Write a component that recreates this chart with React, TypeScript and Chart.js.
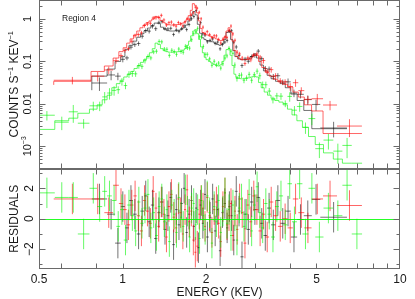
import React, { useEffect, useRef } from 'react';
import { Chart, registerables } from 'chart.js';

Chart.register(...registerables);

// ---------------- data ----------------
// Black data set (bin edges in keV, counts s^-1 keV^-1, model, relative 1-sigma error, residuals)
const blackEdges = [0.775, 0.88, 0.94, 0.985, 1.02, 1.055, 1.09, 1.125, 1.16, 1.195, 1.23, 1.265, 1.3, 1.335, 1.37, 1.405, 1.44, 1.475, 1.51, 1.545, 1.58, 1.615, 1.65, 1.685, 1.72, 1.755, 1.79, 1.825, 1.86, 1.895, 1.93, 1.965, 2.0, 2.045, 2.09, 2.135, 2.18, 2.225, 2.27, 2.315, 2.36, 2.405, 2.45, 2.495, 2.54, 2.6, 2.66, 2.73, 2.8, 2.88, 2.96, 3.04, 3.13, 3.22, 3.32, 3.43, 3.56, 3.7, 3.86, 4.04, 4.26, 4.5, 4.81, 5.16, 6.44];
const blackCounts = [0.031, 0.048, 0.045, 0.112, 0.121, 0.217, 0.249, 0.264, 0.392, 0.531, 0.517, 0.676, 0.591, 0.832, 0.866, 0.595, 0.581, 0.604, 0.432, 0.551, 0.509, 0.594, 0.684, 0.564, 0.742, 1.01, 1.14, 1.58, 1.04, 0.818, 0.446, 0.418, 0.29, 0.313, 0.339, 0.267, 0.286, 0.198, 0.25, 0.286, 0.31, 0.518, 0.53, 0.284, 0.219, 0.138, 0.08, 0.114, 0.101, 0.13, 0.139, 0.175, 0.116, 0.068, 0.066, 0.044, 0.046, 0.0325, 0.033, 0.018, 0.0168, 0.0126, 0.0097, 0.0027];
const blackModel = [0.021, 0.045, 0.066, 0.1, 0.13, 0.19, 0.24, 0.3, 0.37, 0.45, 0.53, 0.61, 0.7, 0.8, 0.78, 0.64, 0.57, 0.53, 0.52, 0.52, 0.53, 0.54, 0.57, 0.62, 0.72, 0.9, 1.2, 1.5, 1.25, 0.75, 0.46, 0.36, 0.33, 0.31, 0.3, 0.29, 0.27, 0.25, 0.24, 0.26, 0.33, 0.48, 0.52, 0.33, 0.18, 0.13, 0.115, 0.11, 0.11, 0.115, 0.13, 0.15, 0.12, 0.082, 0.06, 0.047, 0.039, 0.034, 0.03, 0.024, 0.017, 0.012, 0.007, 0.0026];
const blackErr = [0.35, 0.25, 0.2, 0.15, 0.12, 0.12, 0.12, 0.12, 0.12, 0.12, 0.12, 0.12, 0.12, 0.1, 0.1, 0.1, 0.1, 0.1, 0.1, 0.1, 0.1, 0.1, 0.1, 0.1, 0.1, 0.1, 0.1, 0.08, 0.09, 0.1, 0.1, 0.1, 0.1, 0.1, 0.1, 0.1, 0.1, 0.1, 0.1, 0.1, 0.1, 0.1, 0.1, 0.1, 0.12, 0.12, 0.12, 0.12, 0.12, 0.12, 0.12, 0.12, 0.12, 0.15, 0.15, 0.15, 0.15, 0.15, 0.2, 0.2, 0.2, 0.25, 0.3, 0.4];
const blackResid = [1.3, 0.3, -1.6, 0.8, -0.6, 1.2, 0.3, -1.0, 0.5, 1.5, -0.2, 0.9, -1.3, 0.4, 1.1, -0.7, 0.2, 1.4, -1.7, 0.6, -0.4, 1.0, 2.0, -0.9, 0.3, 1.2, -0.5, 0.7, -1.9, 0.9, -0.3, 1.6, -1.2, 0.1, 1.3, -0.8, 0.6, -2.1, 0.4, 1.0, -0.6, 0.8, 0.2, -1.4, 1.8, 0.5, -2.5, 0.3, -0.7, 1.1, 0.6, 1.4, -0.3, -1.1, 0.7, -0.4, 1.2, -0.3, 0.5, -1.2, -0.05, 0.2, 1.27, 0.1];

// Red data set
const redEdges = [0.565, 0.77, 0.86, 0.925, 0.97, 1.005, 1.035, 1.065, 1.095, 1.125, 1.155, 1.185, 1.215, 1.245, 1.275, 1.305, 1.335, 1.365, 1.395, 1.425, 1.455, 1.485, 1.515, 1.545, 1.575, 1.605, 1.635, 1.665, 1.695, 1.725, 1.755, 1.785, 1.815, 1.845, 1.875, 1.905, 1.935, 1.965, 2.0, 2.04, 2.08, 2.12, 2.16, 2.2, 2.24, 2.28, 2.32, 2.36, 2.4, 2.44, 2.48, 2.52, 2.565, 2.615, 2.67, 2.73, 2.795, 2.865, 2.935, 3.01, 3.09, 3.175, 3.27, 3.375, 3.495, 3.63, 3.775, 3.935, 4.11, 4.3, 4.52, 4.8, 5.28, 5.93, 7.29];
const redCounts = [0.036, 0.045, 0.063, 0.104, 0.137, 0.182, 0.2, 0.299, 0.401, 0.43, 0.47, 0.702, 0.76, 0.793, 1.06, 1.07, 1.09, 1.22, 0.948, 0.72, 0.82, 0.847, 0.727, 0.677, 0.825, 0.77, 0.684, 0.848, 1.02, 0.96, 1.25, 1.4, 1.9, 1.8, 1.44, 1.01, 0.642, 0.456, 0.502, 0.428, 0.364, 0.403, 0.4, 0.33, 0.272, 0.335, 0.374, 0.365, 0.53, 0.682, 0.445, 0.315, 0.165, 0.15, 0.12, 0.089, 0.122, 0.109, 0.142, 0.15, 0.127, 0.105, 0.059, 0.064, 0.046, 0.035, 0.033, 0.0255, 0.0315, 0.0205, 0.0128, 0.0132, 0.0094, 0.003];
const redModel = [0.028, 0.034, 0.058, 0.078, 0.12, 0.17, 0.21, 0.27, 0.34, 0.42, 0.52, 0.62, 0.72, 0.82, 0.9, 1.0, 1.15, 1.1, 0.92, 0.82, 0.76, 0.73, 0.72, 0.72, 0.73, 0.74, 0.76, 0.8, 0.86, 0.98, 1.2, 1.6, 2.3, 2.1, 1.4, 0.9, 0.6, 0.48, 0.44, 0.42, 0.4, 0.38, 0.36, 0.34, 0.32, 0.31, 0.32, 0.38, 0.52, 0.62, 0.5, 0.3, 0.18, 0.13, 0.115, 0.11, 0.11, 0.112, 0.12, 0.14, 0.14, 0.1, 0.072, 0.055, 0.045, 0.038, 0.033, 0.029, 0.025, 0.019, 0.0145, 0.0095, 0.0068, 0.002];
const redErr = [0.2, 0.25, 0.2, 0.15, 0.14, 0.12, 0.12, 0.12, 0.12, 0.12, 0.12, 0.11, 0.11, 0.11, 0.1, 0.1, 0.1, 0.1, 0.1, 0.1, 0.1, 0.1, 0.1, 0.1, 0.1, 0.1, 0.1, 0.1, 0.1, 0.1, 0.09, 0.09, 0.08, 0.08, 0.09, 0.1, 0.1, 0.1, 0.1, 0.1, 0.1, 0.1, 0.1, 0.1, 0.1, 0.1, 0.1, 0.1, 0.1, 0.1, 0.1, 0.1, 0.12, 0.12, 0.12, 0.12, 0.12, 0.12, 0.12, 0.12, 0.12, 0.15, 0.15, 0.15, 0.15, 0.15, 0.15, 0.2, 0.2, 0.2, 0.2, 0.3, 0.25, 0.45];
const redResid = [1.3, 1.3, 0.4, 2.2, 1.0, 0.6, -0.4, 0.9, 1.5, 0.2, -0.8, 1.2, 0.5, -0.3, 1.8, 0.7, -0.5, 1.1, 0.3, -1.2, 0.8, 1.6, 0.1, -0.6, 1.3, 0.4, -1.0, 0.6, 1.9, -0.2, 0.5, -1.4, -2.2, -1.8, 0.3, 1.2, 0.7, -0.5, 1.4, 0.2, -0.9, 0.6, 1.1, -0.3, -1.5, 0.8, 1.7, -0.4, 0.2, 1.0, -1.1, 0.5, -0.7, 1.3, 0.4, -1.6, 0.9, -0.2, 1.5, 0.6, -0.8, 0.3, -1.2, 1.1, 0.2, -0.5, 0.0, -0.6, 1.3, 0.4, -0.6, 1.3, 1.5, 0.87];

// Green data set
const greenEdges = [0.5, 0.57, 0.64, 0.69, 0.76, 0.81, 0.845, 0.88, 0.915, 0.95, 0.98, 1.01, 1.04, 1.07, 1.1, 1.13, 1.16, 1.19, 1.22, 1.25, 1.28, 1.31, 1.34, 1.37, 1.4, 1.43, 1.46, 1.49, 1.52, 1.55, 1.58, 1.61, 1.64, 1.67, 1.7, 1.73, 1.76, 1.79, 1.82, 1.85, 1.88, 1.91, 1.94, 1.97, 2.0, 2.04, 2.08, 2.12, 2.16, 2.2, 2.24, 2.28, 2.32, 2.36, 2.4, 2.44, 2.48, 2.52, 2.56, 2.61, 2.66, 2.71, 2.77, 2.83, 2.89, 2.95, 3.02, 3.09, 3.16, 3.24, 3.33, 3.43, 3.54, 3.66, 3.79, 3.93, 4.08, 4.25, 4.45, 4.68, 4.95, 5.3, 5.75, 6.2, 6.7, 7.3];
const greenCounts = [0.0054, 0.0037, 0.0065, 0.0035, 0.009, 0.009, 0.0146, 0.018, 0.0208, 0.0216, 0.0336, 0.027, 0.05, 0.0516, 0.051, 0.079, 0.0766, 0.104, 0.131, 0.121, 0.168, 0.174, 0.296, 0.289, 0.195, 0.193, 0.139, 0.183, 0.171, 0.147, 0.196, 0.172, 0.1645, 0.227, 0.212, 0.205, 0.325, 0.448, 0.495, 0.6, 0.38, 0.378, 0.225, 0.1466, 0.1475, 0.115, 0.081, 0.101, 0.083, 0.0915, 0.0696, 0.088, 0.12, 0.135, 0.204, 0.174, 0.155, 0.0824, 0.0395, 0.0464, 0.0478, 0.036, 0.0408, 0.0496, 0.036, 0.0488, 0.059, 0.046, 0.0285, 0.0283, 0.02, 0.0125, 0.0154, 0.0152, 0.0102, 0.015, 0.0071, 0.0087, 0.0028, 0.0045, 0.00088, 0.0014, 0.00077, 0.00105, 0.0002];
const greenModel = [0.0038, 0.0025, 0.004, 0.0046, 0.006, 0.0075, 0.0095, 0.0125, 0.016, 0.024, 0.03, 0.036, 0.043, 0.05, 0.058, 0.068, 0.08, 0.095, 0.11, 0.13, 0.16, 0.2, 0.27, 0.25, 0.2, 0.18, 0.17, 0.165, 0.165, 0.165, 0.168, 0.17, 0.175, 0.185, 0.2, 0.24, 0.3, 0.4, 0.52, 0.56, 0.45, 0.33, 0.22, 0.16, 0.125, 0.11, 0.1, 0.092, 0.085, 0.08, 0.078, 0.083, 0.1, 0.14, 0.19, 0.2, 0.14, 0.08, 0.05, 0.042, 0.04, 0.039, 0.039, 0.04, 0.041, 0.043, 0.045, 0.043, 0.032, 0.024, 0.019, 0.016, 0.0135, 0.012, 0.011, 0.0095, 0.0075, 0.0055, 0.004, 0.0028, 0.0017, 0.0011, 0.0007, 0.0005, 0.0004];
const greenErr = [0.25, 0.35, 0.45, 0.25, 0.25, 0.25, 0.3, 0.3, 0.25, 0.2, 0.2, 0.18, 0.18, 0.16, 0.15, 0.15, 0.14, 0.14, 0.12, 0.12, 0.12, 0.12, 0.12, 0.12, 0.12, 0.12, 0.12, 0.12, 0.12, 0.12, 0.12, 0.12, 0.12, 0.12, 0.12, 0.12, 0.12, 0.12, 0.12, 0.12, 0.12, 0.12, 0.12, 0.12, 0.12, 0.12, 0.12, 0.12, 0.12, 0.12, 0.12, 0.12, 0.12, 0.12, 0.12, 0.12, 0.12, 0.15, 0.15, 0.15, 0.15, 0.15, 0.15, 0.15, 0.15, 0.15, 0.15, 0.18, 0.18, 0.18, 0.18, 0.18, 0.18, 0.18, 0.18, 0.25, 0.25, 0.25, 0.3, 0.3, 0.4, 0.4, 0.5, 0.5, 0.5];
const greenResid = [1.7, 1.4, 1.4, -1.0, 2.0, 0.8, 1.8, 1.5, 1.2, -0.5, 0.6, -1.4, 0.9, 0.2, -0.8, 1.1, -0.3, 0.7, 1.6, -0.6, 0.4, -1.1, 0.8, 1.3, -0.2, 0.6, -1.5, 0.9, 0.3, -0.9, 1.4, 0.1, -0.5, 1.9, 0.5, -1.2, 0.7, 1.0, -0.4, 0.6, -1.3, 1.2, 0.2, -0.7, 1.5, 0.4, -1.6, 0.8, -0.2, 1.2, -0.9, 0.5, 1.7, -0.3, 0.6, -1.1, 0.9, 0.2, -1.4, 0.7, 1.3, -0.5, 0.3, 1.6, -0.8, 0.9, 2.1, 0.4, -0.6, 1.0, 0.3, -1.2, 0.8, 1.5, -0.4, 2.3, -0.2, 2.3, -1.0, 2.0, -1.2, 0.7, 0.2, 2.2, -1.0];

// axis ranges and tick labels
const X_RANGE = [0.5, 10];
const TOP_RANGE = [3e-4, 2.8];
const RES_RANGE = [-3.3, 3.3];
const xTickValues = [0.6, 0.8, 1, 2, 3, 4, 5, 6, 7, 8, 9];
const xLabelValues = [0.5, 1, 2, 5, 10];
const xLabelTexts = ['0.5', '1', '2', '5', '10'];
const topLabelValues = [1, 0.1, 0.01, 0.001];
const topLabelTexts = [['1', ''], ['0.1', ''], ['0.01', ''], ['10', '−3']];
const resTickValues = [-3, -2, -1, 0, 1, 2, 3];
const resLabelValues = [2, 0, -2];
const resLabelTexts = ['2', '0', '−2'];

const FONT = '"Liberation Sans", Arial, Helvetica, sans-serif';
const FRAME = '#6a6a6a';
const TEXT = '#1a1a1a';

type Series = {
  edges: number[]; counts: number[]; model: number[]; err: number[]; resid: number[];
  color: string; order: number;
};

const seriesList: Series[] = [
  { edges: blackEdges, counts: blackCounts, model: blackModel, err: blackErr, resid: blackResid, color: 'rgba(0,0,0,0.55)', order: 3 },
  { edges: redEdges, counts: redCounts, model: redModel, err: redErr, resid: redResid, color: 'rgba(255,0,0,0.6)', order: 2 },
  { edges: greenEdges, counts: greenCounts, model: greenModel, err: greenErr, resid: greenResid, color: 'rgba(0,245,0,0.6)', order: 1 },
];

function buildDatasets() {
  const ds: any[] = [];
  for (const s of seriesList) {
    const n = Math.min(s.counts.length, s.model.length, s.err.length, s.resid.length, s.edges.length - 1);
    const stepPts: any[] = [];
    for (let i = 0; i <= n; i++) stepPts.push({ x: s.edges[i], y: s.model[Math.min(i, n - 1)] });
    const topPts: any[] = [];
    const resPts: any[] = [];
    for (let i = 0; i < n; i++) {
      const lo = s.edges[i];
      const hi = s.edges[i + 1];
      const c = Math.sqrt(lo * hi);
      topPts.push({ x: c, y: s.counts[i], xLo: lo, xHi: hi, yLo: s.counts[i] * (1 - s.err[i]), yHi: s.counts[i] * (1 + s.err[i]) });
      resPts.push({ x: c, y: s.resid[i], xLo: lo, xHi: hi, yLo: s.resid[i] - 1, yHi: s.resid[i] + 1 });
    }
    ds.push({ type: 'line', data: stepPts, xAxisID: 'x', yAxisID: 'yTop', stepped: 'after', borderColor: s.color, borderWidth: 1, pointRadius: 0, fill: false, order: s.order });
    ds.push({ type: 'line', data: topPts, xAxisID: 'x', yAxisID: 'yTop', showLine: false, pointRadius: 0, borderColor: s.color, errorBars: true, order: s.order });
    ds.push({ type: 'line', data: resPts, xAxisID: 'x', yAxisID: 'yRes', showLine: false, pointRadius: 0, borderColor: s.color, errorBars: true, order: s.order });
  }
  return ds;
}

const errorBarPlugin = {
  id: 'errorBars',
  afterDatasetDraw(chart: any, args: any) {
    const ds = chart.data.datasets[args.index];
    if (!ds || !ds.errorBars) return;
    const xs = chart.scales[ds.xAxisID];
    const ys = chart.scales[ds.yAxisID];
    const isLog = ys.type === 'logarithmic';
    const ctx = chart.ctx as CanvasRenderingContext2D;
    ctx.save();
    ctx.beginPath();
    ctx.rect(xs.left, ys.top, xs.right - xs.left, ys.bottom - ys.top);
    ctx.clip();
    ctx.strokeStyle = ds.borderColor;
    ctx.lineWidth = 1;
    for (const p of ds.data) {
      ctx.beginPath();
      const px = xs.getPixelForValue(p.x);
      const py = isLog && p.y <= 0 ? ys.bottom + 5 : ys.getPixelForValue(p.y);
      const x0 = xs.getPixelForValue(p.xLo);
      const x1 = xs.getPixelForValue(p.xHi);
      const y0 = isLog && p.yLo <= 0 ? ys.bottom + 5 : ys.getPixelForValue(p.yLo);
      const y1 = ys.getPixelForValue(p.yHi);
      ctx.moveTo(x0, py);
      ctx.lineTo(x1, py);
      ctx.moveTo(px, y0);
      ctx.lineTo(px, y1);
      ctx.stroke();
    }
    ctx.restore();
  },
};

function drawRotated(ctx: CanvasRenderingContext2D, parts: [string, boolean][], baseX: number, cy: number, size: number) {
  const supSize = size * 0.62;
  let total = 0;
  const widths: number[] = [];
  for (const [t, sup] of parts) {
    ctx.font = `${sup ? supSize : size}px ${FONT}`;
    const w = ctx.measureText(t).width;
    widths.push(w);
    total += w;
  }
  ctx.save();
  ctx.translate(baseX, cy);
  ctx.rotate(-Math.PI / 2);
  ctx.textAlign = 'left';
  ctx.textBaseline = 'alphabetic';
  let pos = -total / 2;
  parts.forEach(([t, sup], i) => {
    ctx.font = `${sup ? supSize : size}px ${FONT}`;
    ctx.fillText(t, pos, sup ? -size * 0.42 : 0);
    pos += widths[i];
  });
  ctx.restore();
}

const framePlugin = {
  id: 'frames',
  afterDatasetsDraw(chart: any) {
    const ctx = chart.ctx as CanvasRenderingContext2D;
    const xs = chart.scales.x;
    const yr = chart.scales.yRes;
    const py = Math.round(yr.getPixelForValue(0)) + 0.5;
    ctx.save();
    ctx.strokeStyle = 'rgba(0,255,0,0.85)';
    ctx.lineWidth = 1;
    ctx.beginPath();
    ctx.moveTo(xs.left, py);
    ctx.lineTo(xs.right, py);
    ctx.stroke();
    ctx.restore();
  },
  afterDraw(chart: any) {
    const ctx = chart.ctx as CanvasRenderingContext2D;
    const xs = chart.scales.x;
    const yt = chart.scales.yTop;
    const yr = chart.scales.yRes;
    const l = Math.round(xs.left) + 0.5;
    const r = Math.round(xs.right) - 0.5;
    ctx.save();
    ctx.strokeStyle = FRAME;
    ctx.lineWidth = 1;
    for (const ys of [yt, yr]) {
      const t = Math.round(ys.top) + 0.5;
      const b = Math.round(ys.bottom) - 0.5;
      ctx.strokeRect(l, t, r - l, b - t);
      ctx.beginPath();
      for (const v of xTickValues) {
        const px = Math.round(xs.getPixelForValue(v)) + 0.5;
        ctx.moveTo(px, t);
        ctx.lineTo(px, t + 5);
        ctx.moveTo(px, b);
        ctx.lineTo(px, b - 5);
      }
      ctx.stroke();
    }
    // log ticks of the spectrum panel
    ctx.beginPath();
    const d0 = Math.floor(Math.log10(yt.min));
    const d1 = Math.ceil(Math.log10(yt.max));
    for (let d = d0; d <= d1; d++) {
      for (let k = 1; k <= 9; k++) {
        const v = k * Math.pow(10, d);
        if (v < yt.min || v > yt.max) continue;
        const p = Math.round(yt.getPixelForValue(v)) + 0.5;
        const len = k === 1 ? 6 : 3;
        ctx.moveTo(l, p);
        ctx.lineTo(l + len, p);
        ctx.moveTo(r, p);
        ctx.lineTo(r - len, p);
      }
    }
    for (const v of resTickValues) {
      const p = Math.round(yr.getPixelForValue(v)) + 0.5;
      const len = v % 2 === 0 ? 6 : 3;
      ctx.moveTo(l, p);
      ctx.lineTo(l + len, p);
      ctx.moveTo(r, p);
      ctx.lineTo(r - len, p);
    }
    ctx.stroke();

    // tick labels
    ctx.fillStyle = TEXT;
    ctx.textAlign = 'center';
    ctx.textBaseline = 'alphabetic';
    ctx.font = `12px ${FONT}`;
    xLabelValues.forEach((v, i) => {
      ctx.fillText(xLabelTexts[i], xs.getPixelForValue(v), yr.bottom + 14);
    });
    topLabelValues.forEach((v, i) => {
      const [main, sup] = topLabelTexts[i];
      const parts: [string, boolean][] = [[main, false]];
      if (sup) parts.push([sup, true]);
      drawRotated(ctx, parts, 31, yt.getPixelForValue(v), 11);
    });
    resLabelValues.forEach((v, i) => {
      drawRotated(ctx, [[resLabelTexts[i], false]], 33, yr.getPixelForValue(v), 12);
    });

    // axis titles
    drawRotated(ctx, [['COUNTS S', false], ['−1', true], [' KEV', false], ['−1', true]], 18, (yt.top + yt.bottom) / 2, 12);
    drawRotated(ctx, [['RESIDUALS', false]], 18, (yr.top + yr.bottom) / 2, 12);
    ctx.font = `12px ${FONT}`;
    ctx.textAlign = 'center';
    ctx.fillText('ENERGY (KEV)', (xs.left + xs.right) / 2, 296);

    ctx.textAlign = 'left';
    ctx.font = `8.5px ${FONT}`;
    ctx.fillText('Region 4', 62, 21);
    ctx.restore();
  },
};

export default function App() {
  const ref = useRef<HTMLCanvasElement | null>(null);
  useEffect(() => {
    const canvas = ref.current;
    if (!canvas) return;
    const chart = new Chart(canvas, {
      type: 'line',
      data: { datasets: buildDatasets() },
      options: {
        animation: false,
        responsive: false,
        devicePixelRatio: 1,
        events: [],
        layout: { padding: { left: 39, right: 15, top: 0, bottom: 30 } },
        plugins: { legend: { display: false }, tooltip: { enabled: false } },
        scales: {
          x: { type: 'logarithmic', min: X_RANGE[0], max: X_RANGE[1], display: false },
          yTop: { type: 'logarithmic', position: 'left', min: TOP_RANGE[0], max: TOP_RANGE[1], display: false, stack: 'panels', stackWeight: 168.5, weight: 1 },
          yRes: { type: 'linear', position: 'left', min: RES_RANGE[0], max: RES_RANGE[1], display: false, stack: 'panels', stackWeight: 100.5, weight: 0 },
        },
      } as any,
      plugins: [errorBarPlugin, framePlugin],
    });
    return () => chart.destroy();
  }, []);
  return (
    <div style={{ position: 'absolute', left: 0, top: 0, width: 415, height: 299, background: '#fff' }}>
      <canvas ref={ref} width={415} height={299} style={{ display: 'block', width: 415, height: 299 }} />
    </div>
  );
}
